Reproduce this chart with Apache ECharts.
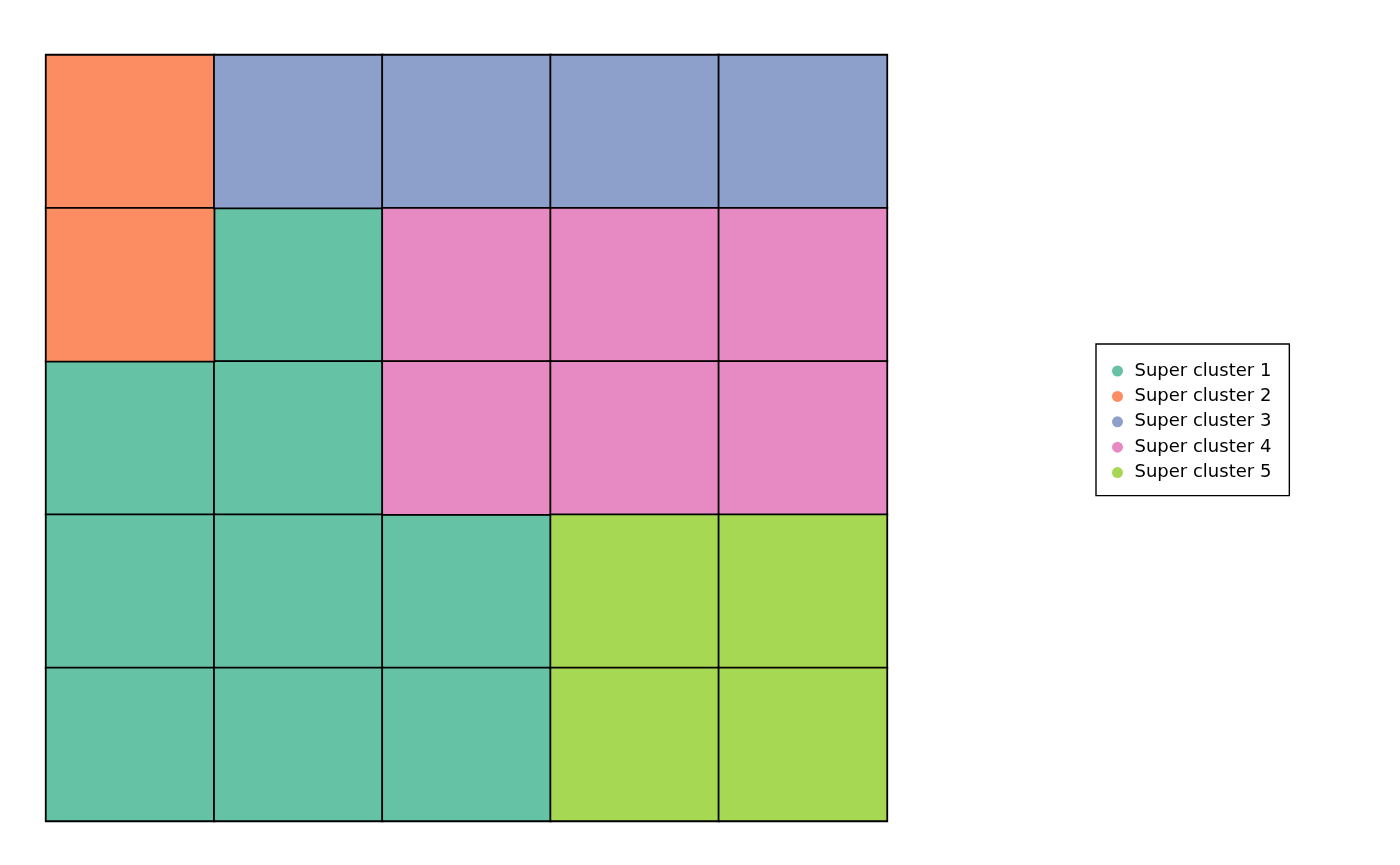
<!DOCTYPE html>
<html>
<head>
<meta charset="utf-8">
<script src="https://cdn.jsdelivr.net/npm/echarts@6/dist/echarts.min.js"></script>
<style>html,body{margin:0;padding:0;background:#fff}#c{width:1400px;height:865px}</style>
</head>
<body>
<div id="c"></div>
<script>
const xCats = ['1','2','3','4','5'];
const yCats = ['1','2','3','4','5'];
const clusterNames = ['Super cluster 1','Super cluster 2','Super cluster 3','Super cluster 4','Super cluster 5'];
const clusterColors = ['#66C2A5','#FC8D62','#8DA0CB','#E78AC3','#A6D854'];
// cluster assignment, rows top to bottom
const gridRows = [
  [2,3,3,3,3],
  [2,1,4,4,4],
  [1,1,4,4,4],
  [1,1,1,5,5],
  [1,1,1,5,5]
];

const series = clusterNames.map((name, k) => {
  const data = [];
  gridRows.forEach((row, r) => row.forEach((c, col) => {
    if (c === k + 1) data.push([col, r, c]);
  }));
  return {
    name: name,
    type: 'heatmap',
    data: data,
    itemStyle: { color: clusterColors[k], borderColor: '#000', borderWidth: 1.8 },
    emphasis: { disabled: true }
  };
});

const chart = echarts.init(document.getElementById('c'), null, {renderer: 'canvas'});
chart.setOption({
  animation: false,
  backgroundColor: '#fff',
  color: clusterColors,
  grid: { left: 46, top: 55, width: 841, height: 766 },
  xAxis: { type: 'category', data: xCats, show: false },
  yAxis: { type: 'category', data: yCats, inverse: true, show: false },
  legend: {
    orient: 'vertical',
    left: 1096, top: 344,
    padding: [18, 18, 14, 16],
    borderColor: '#000', borderWidth: 1.4,
    backgroundColor: '#fff',
    icon: 'circle',
    itemWidth: 24, itemHeight: 11, itemGap: 7.4,
    itemStyle: { borderWidth: 0 },
    textStyle: { fontFamily: 'DejaVu Sans', fontSize: 18, lineHeight: 18, color: '#000' },
    data: clusterNames
  },
  series: series
});
</script>
</body>
</html>
